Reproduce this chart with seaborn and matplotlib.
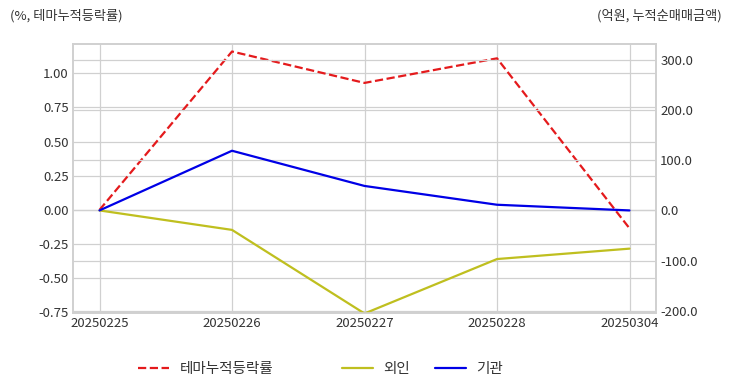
import matplotlib
matplotlib.use("Agg")
import matplotlib.pyplot as plt
import seaborn as sns
import pandas as pd
from matplotlib.lines import Line2D

dates = ["20250225", "20250226", "20250227", "20250228", "20250304"]
theme_rate = [0.00, 1.16, 0.93, 1.11, -0.135]
foreign = [0.0, -38.7, -205.0, -96.7, -76.0]
institution = [0.0, 118.7, 48.7, 11.3, 0.0]

left_ticks = [-0.75, -0.50, -0.25, 0.00, 0.25, 0.50, 0.75, 1.00]
right_ticks = [-200, -100, 0, 100, 200, 300]

sns.set_theme(style="whitegrid")
plt.rcParams["font.family"] = ["Noto Sans CJK KR", "DejaVu Sans"]
plt.rcParams["axes.unicode_minus"] = False

df = pd.DataFrame({"x": range(len(dates)), "theme": theme_rate,
                   "foreign": foreign, "inst": institution})

RED, YEL, BLU = "#e41a1c", "#bfbf1f", "#0000e6"

fig = plt.figure(figsize=(7.32, 3.92), dpi=100)
ax = fig.add_axes([73/732, 1-313/392, (656-73)/732, (313-44)/392])
ax2 = ax.twinx()

sns.lineplot(data=df, x="x", y="theme", ax=ax, color=RED, linestyle="--",
             linewidth=1.6, legend=False)
sns.lineplot(data=df, x="x", y="foreign", ax=ax2, color=YEL, linewidth=1.6, legend=False)
sns.lineplot(data=df, x="x", y="inst", ax=ax2, color=BLU, linewidth=1.6, legend=False)

ax.set_xlim(-0.2, 4.2)
ax.set_ylim(-0.755, 1.215)
ax2.set_ylim(-204, 331)
ax.set_xticks(range(len(dates)))
ax.set_xticklabels(dates)
ax.set_yticks(left_ticks)
ax.set_yticklabels([f"{v:.2f}" for v in left_ticks])
ax2.set_yticks(right_ticks)
ax2.set_yticklabels([f"{v:.1f}" for v in right_ticks])
ax.set_xlabel("")
ax.set_ylabel("")
ax2.set_ylabel("")

for a in (ax, ax2):
    a.tick_params(length=0, labelsize=9.5, colors="#333333", pad=3)
    a.grid(True, color="#d0d0d0", linewidth=0.9)
    for s in a.spines.values():
        s.set_color("#d0d0d0")
        s.set_linewidth(1.2)
ax2.grid(True, axis="y", color="#d0d0d0", linewidth=0.9)
ax2.grid(False, axis="x")

fig.text(10/732, 1-16/392, "(%, 테마누적등락률)", fontsize=9.5, color="#333333", va="center", ha="left")
fig.text(722/732, 1-16/392, "(억원, 누적순매매금액)", fontsize=9.5, color="#333333", va="center", ha="right")

entries = [(RED, "--", "테마누적등락률", 138),
           (YEL, "-", "외인", 342),
           (BLU, "-", "기관", 435)]
for color, ls, label, xpos in entries:
    h = Line2D([], [], color=color, linestyle=ls, linewidth=1.6)
    fig.legend([h], [label], loc="center left", bbox_to_anchor=(xpos/732, 1-369/392),
               frameon=False, fontsize=10.5, handlelength=2.1, handletextpad=0.75,
               borderpad=0, borderaxespad=0, labelcolor="#333333")

fig.savefig("out.png", dpi=100)
